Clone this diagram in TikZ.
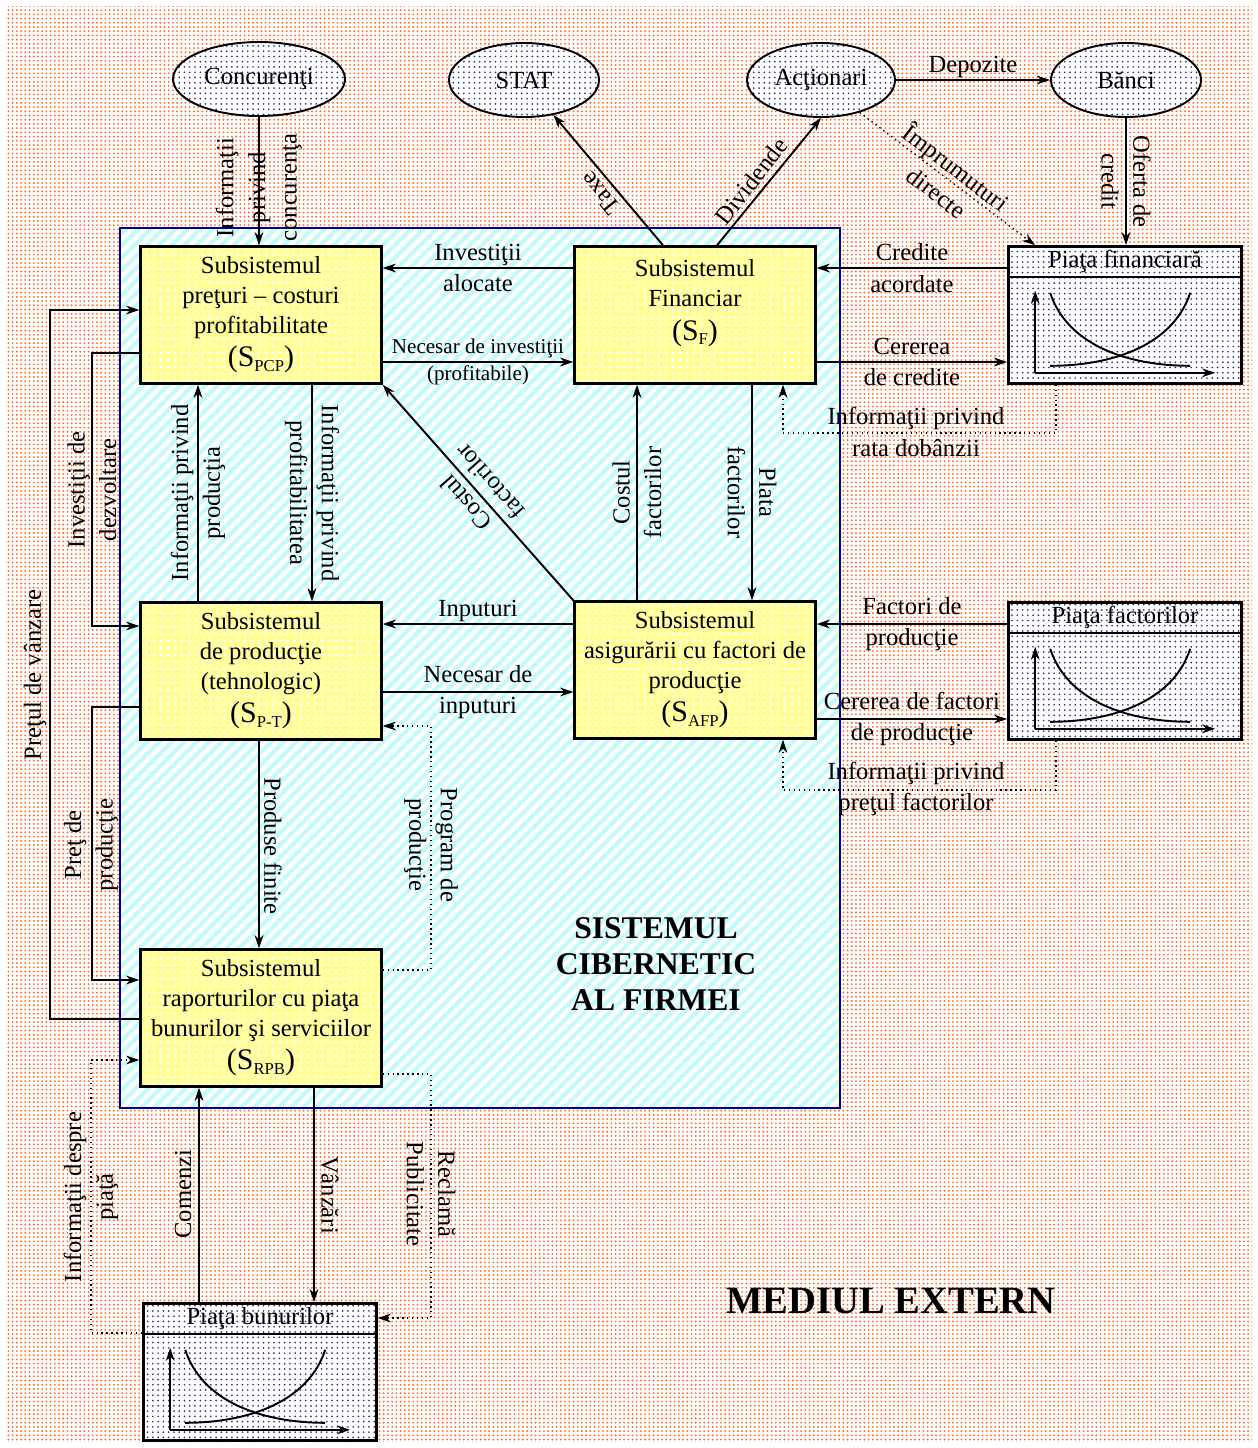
\documentclass[tikz,border=0pt]{standalone}
\usepackage{fontspec}
\setmainfont{Liberation Serif}
\usetikzlibrary{arrows.meta,positioning,calc,shapes.geometric,patterns.meta}

\definecolor{extdot}{RGB}{255,110,45}
\definecolor{sysline}{RGB}{0,0,140}
\definecolor{syshatch}{RGB}{195,250,250}
\definecolor{subfill}{RGB}{255,255,150}
\definecolor{mktdot}{RGB}{50,50,140}

% (S_xx) index line of a subsystem box
\newcommand{\Sidx}[1]{{\fontsize{17}{20}\selectfont(S\raisebox{-2.5pt}{\fontsize{9.5}{10}\selectfont #1})}}

\begin{document}
\begin{tikzpicture}[x=0.02cm,y=-0.02cm,
  >={Stealth[length=7.5pt,width=5pt,inset=2.5pt]},
  sub/.style={draw,line width=1.4pt,minimum width=4.82cm,minimum height=2.74cm,
    inner sep=1pt,align=center,font=\fontsize{14}{17}\selectfont,
    preaction={fill=subfill},pattern={Dots[distance=4pt,radius=1.1pt]},pattern color=white},
  ent/.style={ellipse,draw,line width=1.1pt,minimum width=3cm,minimum height=1.48cm,
    inner sep=0pt,font=\fontsize{14}{17}\selectfont,
    preaction={fill=white},pattern={Dots[distance=3pt,radius=0.55pt]},pattern color=mktdot},
  mkt/.style={draw,line width=1.5pt,minimum width=4.66cm,minimum height=2.74cm,inner sep=0pt,
    preaction={fill=white},pattern={Dots[distance=3pt,radius=0.55pt]},pattern color=mktdot},
  fl/.style={line width=1.1pt,->},
  inf/.style={line width=0.8pt,dotted,->},
  gr/.style={line width=1pt},
  lb/.style={font=\fontsize{14}{18}\selectfont,align=center,inner sep=1pt},
  ttl/.style={align=center}
]
\useasboundingbox (0,0) rectangle (1258,1448);
% ---- external environment and firm area ----
\fill[preaction={fill=white},pattern={Dots[distance=2.4pt,radius=0.6pt]},pattern color=extdot]
  (6,6) rectangle (1252,1442);
\draw[draw=sysline,line width=1pt,preaction={fill=white},
  pattern={Lines[angle=45,distance=5pt,line width=2.4pt]},pattern color=syshatch]
  (120,228) rectangle (840,1108);

% ---- outside agents ----
\node[ent,minimum width=3.44cm] (conc) at (259,79) {Concurenţi};
\node[ent] (stat) at (524,80) {STAT};
\node[ent,minimum width=2.96cm] (act) at (821,80) {Acţionari};
\node[ent] (banci) at (1126,80) {Bănci};

% ---- subsystems ----
\node[sub] (PCP) at (261,315) {Subsistemul\\preţuri – costuri\\profitabilitate\\[2pt]\Sidx{PCP}};
\node[sub] (SF) at (695,315) {Subsistemul\\Financiar\\[2pt]\Sidx{F}\\\mbox{}};
\node[sub] (SPT) at (261,671) {Subsistemul\\de producţie\\(tehnologic)\\[2pt]\Sidx{P-T}};
\node[sub] (SAFP) at (695,670) {Subsistemul\\asigurării cu factori de\\producţie\\[2pt]\Sidx{AFP}};
\node[sub] (SRPB) at (261,1018) {Subsistemul\\raporturilor cu piaţa\\bunurilor şi serviciilor\\[2pt]\Sidx{RPB}};

% ---- markets ----
\node[mkt] (pfin) at (1125,315) {};
\node[mkt] (pfac) at (1125,671) {};
\node[mkt] (pbun) at (260,1372) {};
\foreach \m in {pfin,pfac,pbun}{
  \draw[line width=1.3pt] ($(\m.north west)+(0,32)$) -- ($(\m.north east)+(0,32)$);
  \draw[gr,->] ($(\m.south west)+(28,-12)$) -- ($(\m.south west)+(28,-94)$);
  \draw[gr,->] ($(\m.south west)+(28,-12)$) -- ($(\m.south west)+(208,-12)$);
  \draw[line width=1.1pt] ($(\m.south west)+(43,-92)$) .. controls ($(\m.south west)+(60,-40)$)
    and ($(\m.south west)+(120,-19)$) .. ($(\m.south west)+(183,-19)$);
  \draw[line width=1.1pt] ($(\m.south west)+(43,-19)$) .. controls ($(\m.south west)+(106,-19)$)
    and ($(\m.south west)+(166,-40)$) .. ($(\m.south west)+(183,-92)$);
}
\node[lb] (tfin) at ($(pfin.north)+(0,16)$) {Piaţa financiară};
\node[lb] (tfac) at ($(pfac.north)+(0,16)$) {Piaţa factorilor};
\node[lb] (tbun) at ($(pbun.north)+(0,16)$) {Piaţa bunurilor};

% ---- top: competitors, state, shareholders, banks ----
\draw[fl] (conc.south) -- (conc.south |- PCP.north)
  node[lb,pos=0.55,rotate=90] (lConc) {Informaţii\\privind\\concurenţa};
\draw[fl] (SF.north -| 663,0) -- (stat);
\node[lb,rotate=129] (lTaxe) at (600,193) {Taxe};
\draw[fl] (SF.north -| 717,0) -- (act.south);
\node[lb,rotate=52] (lDiv) at (751,181) {Dividende};
\draw[fl] (act.east) -- (banci.west) node[lb,midway,above] (lDep) {Depozite};
\draw[inf] (act.-40) -- (pfin.north -| 1035,0)
  node[lb,midway,rotate=-37.5] (lImpr) {Împrumuturi\\directe};
\draw[fl] (banci.south) -- (banci.south |- pfin.north)
  node[lb,midway,rotate=-90] (lOferta) {Oferta de\\credit};

% ---- financial market ----
\draw[fl] (pfin.west |- 0,268) -- (SF.east |- 0,268) node[lb,midway] (lCred) {Credite\\acordate};
\draw[fl] (SF.east |- 0,362) -- (pfin.west |- 0,362) node[lb,midway] (lCer) {Cererea\\de credite};
\draw[inf] (pfin.south -| 1056,0) |- (783,433) -- (SF.south -| 783,0);
\node[lb] (lRata) at (916,432) {Informaţii privind\\rata dobânzii};

% ---- factor market ----
\draw[fl] (pfac.west |- 0,624) -- (SAFP.east |- 0,624) node[lb,midway] (lFact) {Factori de\\producţie};
\draw[fl] (SAFP.east |- 0,719) -- (pfac.west |- 0,719) node[lb,midway] (lCerF) {Cererea de factori\\de producţie};
\draw[inf] (pfac.south -| 1056,0) |- (783,790) -- (SAFP.south -| 783,0);
\node[lb] (lPretF) at (916,789) {Informaţii privind\\preţul factorilor};

% ---- flows inside the firm ----
\draw[fl] (SF.west |- 0,268) -- (PCP.east |- 0,268) node[lb,midway] (lInvA) {Investiţii\\alocate};
\draw[fl] (PCP.east |- 0,362) -- (SF.west |- 0,362)
  node[lb,midway,font=\fontsize{12}{15.5}\selectfont] (lNecI) {Necesar de investiţii\\(profitabile)};
\draw[fl] (PCP.south -| 312,0) -- (SPT.north -| 312,0)
  node[lb,midway,rotate=-90] (lInfPr) {Informaţii privind\\profitabilitatea};
\draw[fl] (SPT.north -| 198,0) -- (PCP.south -| 198,0)
  node[lb,midway,rotate=90] (lInfPd) {Informaţii privind\\producţia};
\draw[fl] (SAFP.north west) -- (PCP.south east)
  node[lb,midway,rotate=131.5] (lCostD) {Costul\\factorilor};
\draw[fl] (SAFP.north -| 637,0) -- (SF.south -| 637,0)
  node[lb,midway,rotate=90] (lCostV) {Costul\\factorilor};
\draw[fl] (SF.south -| 752,0) -- (SAFP.north -| 752,0)
  node[lb,midway,rotate=-90] (lPlata) {Plata\\factorilor};
\draw[fl] (SAFP.west |- 0,624) -- (SPT.east |- 0,624) node[lb,midway,above] (lInp) {Inputuri};
\draw[fl] (SPT.east |- 0,692) -- (SAFP.west |- 0,692) node[lb,midway] (lNecInp) {Necesar de\\inputuri};
\draw[fl] (SPT.south -| 259,0) -- (SRPB.north -| 259,0);
\node[lb,rotate=-90] (lProd) at (273,846) {Produse finite};
\draw[inf] (SRPB.east |- 0,970) -| (431,726) -- (SPT.east |- 0,726);
\node[lb,rotate=-90] (lProg) at (431,845) {Program de\\producţie};
\draw[fl] (PCP.west |- 0,353) -| (92,626) -- (SPT.west |- 0,626);
\node[lb,rotate=90] (lInvD) at (92,490) {Investiţii de\\dezvoltare};
\draw[fl] (SPT.west |- 0,707) -| (92,980) -- (SRPB.west |- 0,980);
\node[lb,rotate=90] (lPretP) at (91,845) {Preţ de\\producţie};
\draw[fl] (SRPB.west |- 0,1019) -| (50,310) -- (PCP.west |- 0,310);
\node[lb,rotate=90] (lPretV) at (35,675) {Preţul de vânzare};

% ---- goods market ----
\draw[fl] (pbun.north -| 199,0) -- (SRPB.south -| 199,0);
\node[lb,rotate=90] (lCom) at (183,1194) {Comenzi};
\draw[fl] (SRPB.south -| 314,0) -- (pbun.north -| 314,0);
\node[lb,rotate=-90] (lVanz) at (330,1195) {Vânzări};
\draw[inf] (SRPB.east |- 0,1074) -| (431,1318) -- (pbun.east |- 0,1318);
\node[lb,rotate=-90] (lRecl) at (431,1194) {Reclamă\\Publicitate};
\draw[inf] (pbun.west |- 0,1333) -| (91,1060) -- (SRPB.west |- 0,1060);
\node[lb,rotate=90] (lInfP) at (91,1197) {Informaţii despre\\piaţă};

% ---- titles ----
\node[ttl,font=\fontsize{18}{20.5}\selectfont\bfseries] (tsys) at (656,964) {SISTEMUL\\CIBERNETIC\\AL FIRMEI};
\node[ttl,font=\fontsize{22}{26}\selectfont\bfseries] (text) at (891,1301) {MEDIUL EXTERN};
\end{tikzpicture}
\end{document}
